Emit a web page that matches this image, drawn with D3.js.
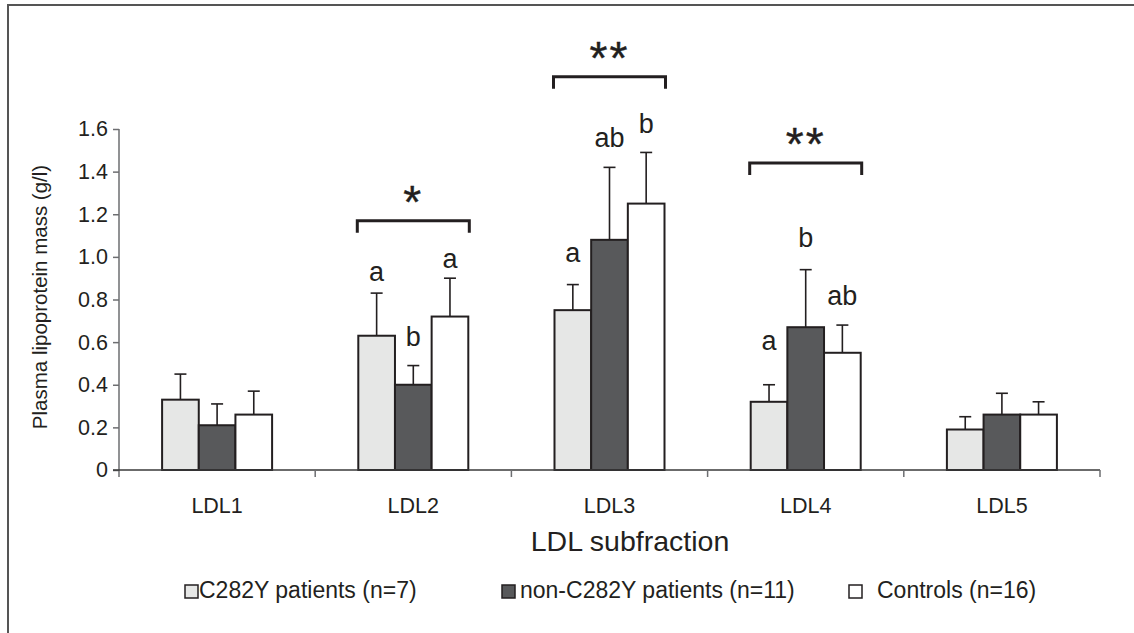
<!DOCTYPE html>
<html>
<head>
<meta charset="utf-8">
<script src="https://cdn.jsdelivr.net/npm/d3@7/dist/d3.min.js"></script>
<style>
  html, body { margin: 0; padding: 0; background: #fff; }
  svg { display: block; font-family: "Liberation Sans", Arial, Helvetica, sans-serif; }
</style>
</head>
<body>
<svg id="chart" width="1134" height="633"></svg>
<script>
// ---------- data ----------
const categories = ["LDL1", "LDL2", "LDL3", "LDL4", "LDL5"];
const seriesNames = ["C282Y patients (n=7)", "non-C282Y patients (n=11)", "Controls (n=16)"];
const c282yMean = [0.33, 0.63, 0.75, 0.32, 0.19];
const c282ySD   = [0.12, 0.20, 0.12, 0.08, 0.06];
const nonC282yMean = [0.21, 0.40, 1.08, 0.67, 0.26];
const nonC282ySD   = [0.10, 0.09, 0.34, 0.27, 0.10];
const controlsMean = [0.26, 0.72, 1.25, 0.55, 0.26];
const controlsSD   = [0.11, 0.18, 0.24, 0.13, 0.06];
const yTicks = [0, 0.2, 0.4, 0.6, 0.8, 1.0, 1.2, 1.4, 1.6];
const yTickLabels = ["0", "0.2", "0.4", "0.6", "0.8", "1.0", "1.2", "1.4", "1.6"];
// significance letters per category (C282Y, non-C282Y, Controls) and their heights (g/l)
const letterCategories = ["LDL2", "LDL3", "LDL4"];
const letterText = [["a", "b", "a"], ["a", "ab", "b"], ["a", "b", "ab"]];
const letterLevel = [[0.887, 0.582, 0.948], [0.976, 1.516, 1.581], [0.563, 1.046, 0.774]];
// group significance brackets
const bracketCategories = ["LDL2", "LDL3", "LDL4"];
const bracketStars = ["*", "**", "**"];
const bracketLevel = [1.17, 1.845, 1.44];

const means = [c282yMean, nonC282yMean, controlsMean];
const sds = [c282ySD, nonC282ySD, controlsSD];
const fills = ["#e6e7e6", "#58595b", "#ffffff"];
const ink = "#231f20";

// ---------- layout ----------
const svg = d3.select("#chart");
const x0 = d3.scaleBand().domain(categories).range([119, 1100]).paddingInner(0).paddingOuter(0);
const groupW = 110;
const x1 = d3.scaleBand().domain(d3.range(seriesNames.length))
  .range([(x0.bandwidth() - groupW) / 2, (x0.bandwidth() + groupW) / 2]);
const y = d3.scaleLinear().domain([0, 1.6]).range([470, 129]);

// frame
svg.append("path").attr("d", "M8,633 L8,5 L1134,5")
  .attr("fill", "none").attr("stroke", "#555").attr("stroke-width", 2);

// y axis
const yAxis = d3.axisLeft(y).tickValues(yTicks)
  .tickFormat((d, i) => yTickLabels[i]).tickSize(6).tickPadding(5);
const gy = svg.append("g").attr("transform", "translate(119,0)").call(yAxis);
gy.select(".domain").remove();
gy.append("line").attr("x1", 0).attr("x2", 0).attr("y1", y(1.6)).attr("y2", 477)
  .attr("stroke", "#6d6e71").attr("stroke-width", 1.5);
gy.selectAll(".tick line").attr("stroke", "#6d6e71").attr("stroke-width", 1.5);
gy.selectAll(".tick text").attr("fill", ink).style("font-size", "21.5px")
  .style("font-family", "'Liberation Sans', Arial, sans-serif");

// y axis title
svg.append("text")
  .attr("transform", "translate(47,297) rotate(-90)")
  .attr("text-anchor", "middle").attr("fill", ink)
  .style("font-size", "20.5px").text("Plasma lipoprotein mass (g/l)");

// bars
const groups = svg.append("g").selectAll("g").data(categories).join("g")
  .attr("transform", d => `translate(${x0(d)},0)`);

groups.each(function (cat, ci) {
  const g = d3.select(this);
  seriesNames.forEach((s, si) => {
    const m = means[si][ci], sd = sds[si][ci];
    const bx = x1(si), bw = x1.bandwidth();
    const cx = bx + bw / 2;
    // error bar (upper)
    g.append("line").attr("x1", cx).attr("x2", cx).attr("y1", y(m)).attr("y2", y(m + sd))
      .attr("stroke", ink).attr("stroke-width", 1.6);
    g.append("line").attr("x1", cx - 6).attr("x2", cx + 6).attr("y1", y(m + sd)).attr("y2", y(m + sd))
      .attr("stroke", ink).attr("stroke-width", 1.6);
  });
  seriesNames.forEach((s, si) => {
    const m = means[si][ci];
    g.append("rect").attr("x", x1(si)).attr("width", x1.bandwidth())
      .attr("y", y(m)).attr("height", y(0) - y(m))
      .attr("fill", fills[si]).attr("stroke", ink).attr("stroke-width", 2);
  });
});

// x axis line + ticks
svg.append("line").attr("x1", 113).attr("x2", 1100).attr("y1", y(0)).attr("y2", y(0))
  .attr("stroke", "#3a3a3a").attr("stroke-width", 1.5);
categories.slice(1).concat(["__end"]).forEach((c, i) => {
  const xx = c === "__end" ? x0.range()[1] : x0(c);
  svg.append("line").attr("x1", xx).attr("x2", xx).attr("y1", y(0)).attr("y2", y(0) + 7)
    .attr("stroke", "#6d6e71").attr("stroke-width", 1.5);
});
svg.append("g").selectAll("text").data(categories).join("text")
  .attr("x", d => x0(d) + x0.bandwidth() / 2).attr("y", 513)
  .attr("text-anchor", "middle").attr("fill", ink).style("font-size", "21.5px")
  .text(d => d);

// x axis title
svg.append("text").attr("x", 630).attr("y", 551).attr("text-anchor", "middle")
  .attr("fill", ink).style("font-size", "28.5px").text("LDL subfraction");

// letters
letterCategories.forEach((cat, k) => {
  letterText[k].forEach((t, si) => {
    svg.append("text")
      .attr("x", x0(cat) + x1(si) + x1.bandwidth() / 2)
      .attr("y", y(letterLevel[k][si]))
      .attr("text-anchor", "middle").attr("fill", ink).style("font-size", "27px")
      .text(t);
  });
});

// brackets
bracketCategories.forEach((cat, k) => {
  const xl = x0(cat) + x1(0) - 1, xr = x0(cat) + x1(seriesNames.length - 1) + x1.bandwidth() + 1;
  const by = y(bracketLevel[k]);
  svg.append("path").attr("d", `M${xl},${by + 12} L${xl},${by} L${xr},${by} L${xr},${by + 12}`)
    .attr("fill", "none").attr("stroke", ink).attr("stroke-width", 3);
  svg.append("text").attr("x", (xl + xr) / 2).attr("y", by - 3)
    .attr("text-anchor", "middle").attr("fill", ink)
    .attr("stroke", ink).attr("stroke-width", 0.4)
    .style("font-size", "46px").style("letter-spacing", "2px")
    .text(bracketStars[k]);
});

// legend
const legendX = [185, 502, 849];
const legendTextX = [199, 520, 877];
seriesNames.forEach((s, si) => {
  svg.append("rect").attr("x", legendX[si]).attr("y", 585).attr("width", 13).attr("height", 13)
    .attr("fill", fills[si]).attr("stroke", ink).attr("stroke-width", 1.5);
  svg.append("text").attr("x", legendTextX[si]).attr("y", 598).attr("fill", ink)
    .style("font-size", "23px").text(s);
});
</script>
</body>
</html>
